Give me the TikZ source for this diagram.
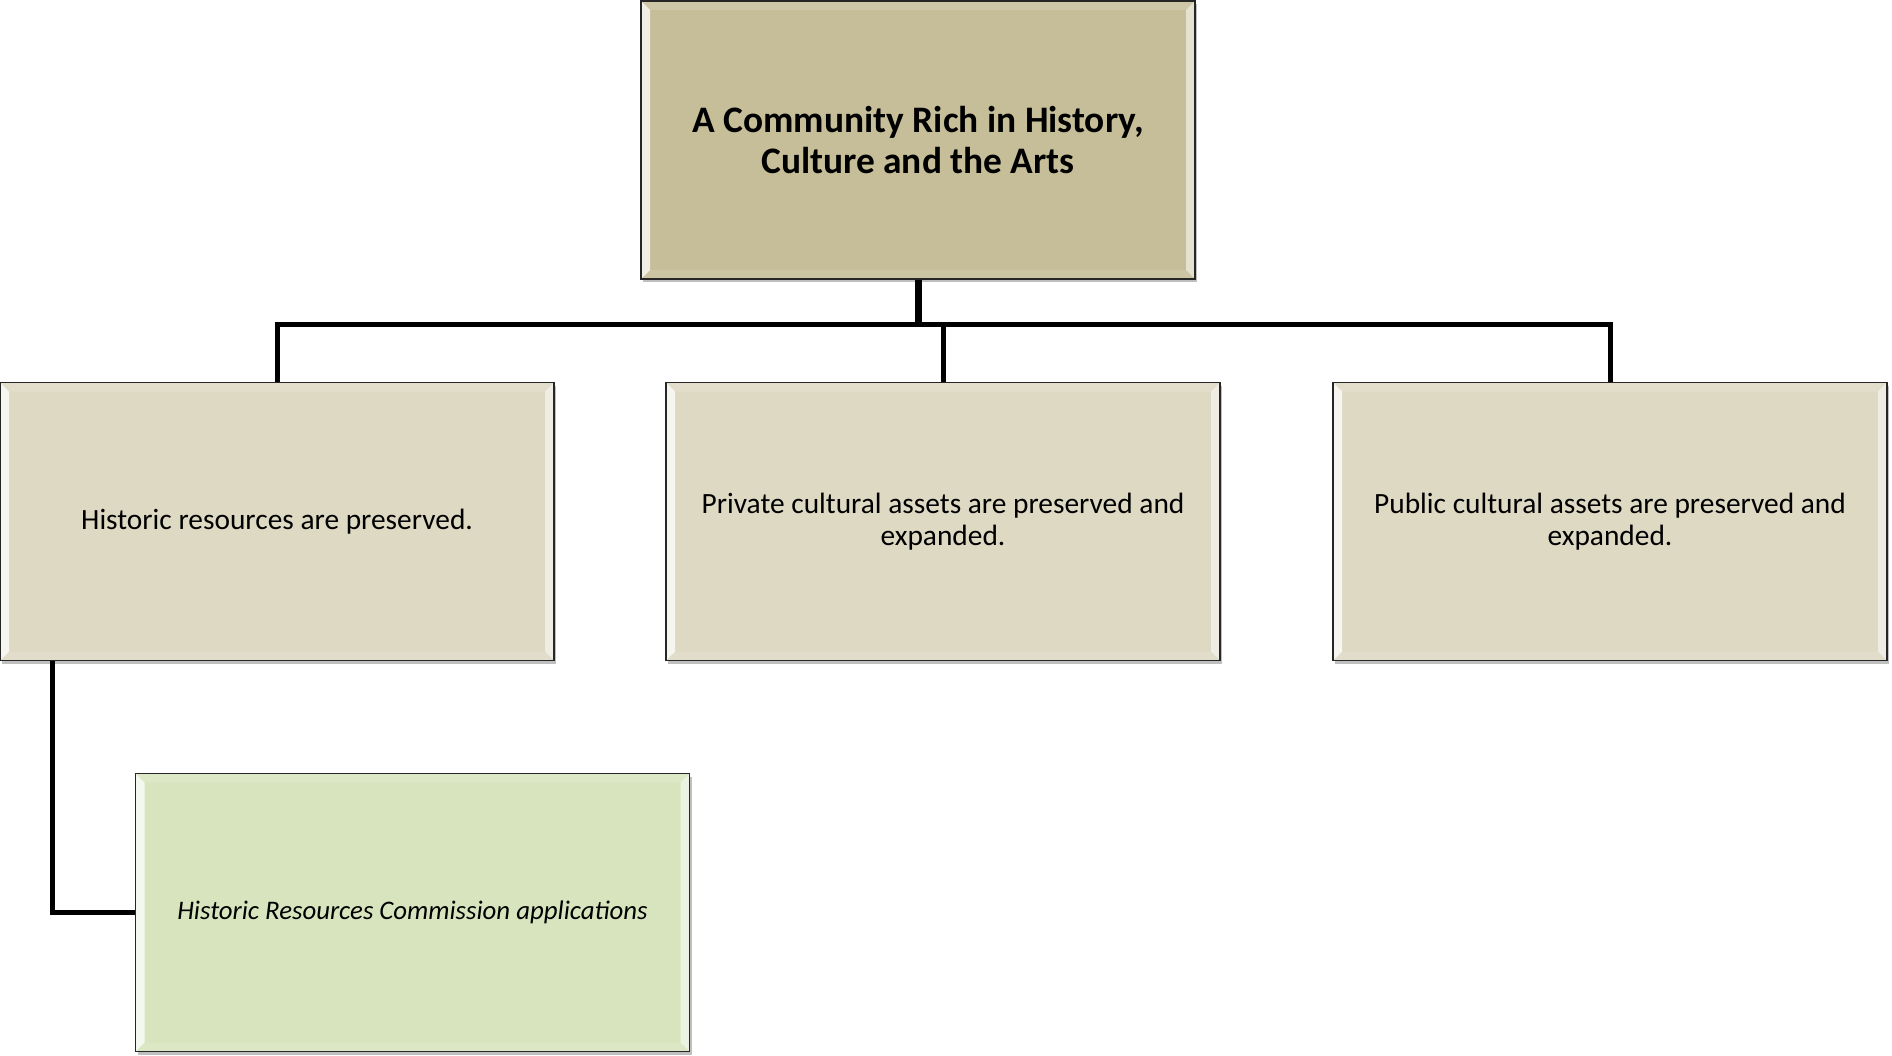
\documentclass[tikz,border=0pt]{standalone}
\usepackage{fontspec}
\setmainfont{Carlito}
\usetikzlibrary{shadows}
\definecolor{topfill}{HTML}{C5BE98}
\definecolor{midfill}{HTML}{DDD9C3}
\definecolor{lowfill}{HTML}{D7E4BD}
\definecolor{edge}{HTML}{262626}
\tikzset{
  bevelbox/.style={draw=edge, line width=1.4pt, minimum width=554pt, minimum height=278pt,
    inner sep=0pt, align=center, text=black,
    drop shadow={shadow xshift=2pt, shadow yshift=-3pt, opacity=0.25, fill=black},
    path picture={
      \fill[white, opacity=0.15] (path picture bounding box.north west) -- (path picture bounding box.north east)
         -- ([xshift=-9pt,yshift=-9pt]path picture bounding box.north east) -- ([xshift=9pt,yshift=-9pt]path picture bounding box.north west) -- cycle;
      \fill[white, opacity=0.12] (path picture bounding box.south west) -- (path picture bounding box.south east)
         -- ([xshift=-9pt,yshift=9pt]path picture bounding box.south east) -- ([xshift=9pt,yshift=9pt]path picture bounding box.south west) -- cycle;
      \fill[white, opacity=0.75] (path picture bounding box.north west) -- ([xshift=9pt,yshift=-9pt]path picture bounding box.north west)
         -- ([xshift=9pt,yshift=9pt]path picture bounding box.south west) -- (path picture bounding box.south west) -- cycle;
      \fill[white, opacity=0.55] (path picture bounding box.north east) -- ([xshift=-9pt,yshift=-9pt]path picture bounding box.north east)
         -- ([xshift=-9pt,yshift=9pt]path picture bounding box.south east) -- (path picture bounding box.south east) -- cycle;
    }},
  link/.style={draw=black, line width=5pt},
  trunk/.style={draw=black, line width=7pt},
  titletext/.style={font=\fontsize{37.4}{41}\selectfont\bfseries},
  bodytext/.style={font=\fontsize{29.4}{32.6}\selectfont},
  italtext/.style={font=\fontsize{26.8}{32.6}\selectfont\itshape},
}
\begin{document}
\begin{tikzpicture}[x=1pt,y=-1pt]
\useasboundingbox[fill=white] (0,0) rectangle (1892,1056);
\node[bevelbox, fill=topfill, titletext] (top) at (918,140) {A Community Rich in History,\\Culture and the Arts};
\node[bevelbox, fill=midfill, bodytext] (c1) at (277,521.5) {Historic resources are preserved.};
\node[bevelbox, fill=midfill, bodytext] (c2) at (943,521.5) {Private cultural assets are preserved and\\expanded.};
\node[bevelbox, fill=midfill, bodytext] (c3) at (1610,521.5) {Public cultural assets are preserved and\\expanded.};
\node[bevelbox, fill=lowfill, italtext] (d) at (412.5,912.5) {Historic Resources Commission applications};
\coordinate (bar) at (918,325);
\draw[link] (c1.north) -- (c1.north |- bar) -- (c3.north |- bar) -- (c3.north);
\draw[link] (c2.north) -- (c2.north |- bar);
\draw[trunk] (top.south) -- ([yshift=-2.5pt]top.south |- bar);
\draw[link] ([xshift=53pt]c1.south west) |- (d.west);
\end{tikzpicture}
\end{document}
